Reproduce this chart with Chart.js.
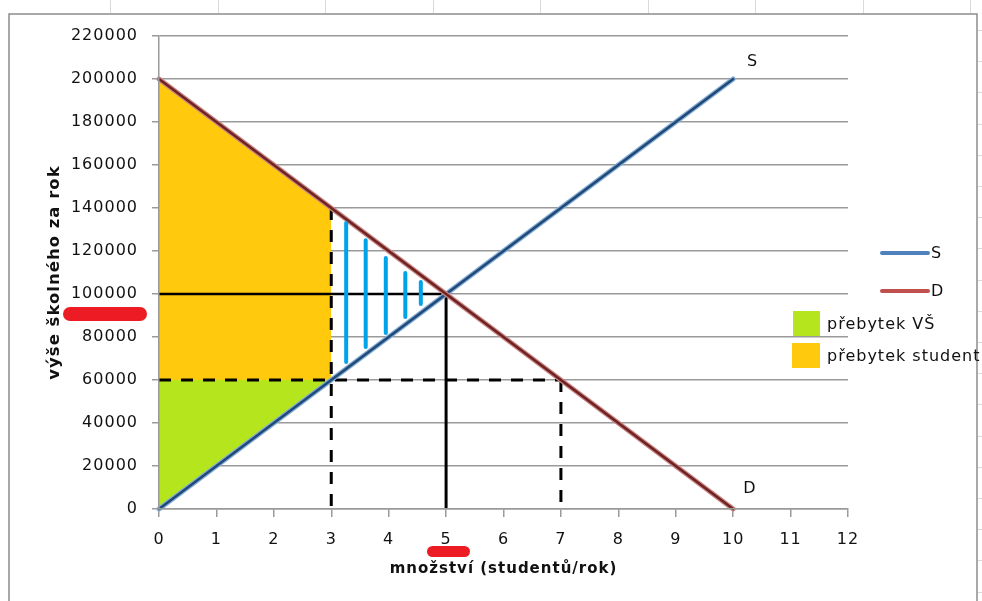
<!DOCTYPE html>
<html><head><meta charset="utf-8">
<script src="https://cdn.jsdelivr.net/npm/chart.js@4/dist/chart.umd.min.js"></script>
<style>html,body{margin:0;padding:0;background:#fff;overflow:hidden}canvas{display:block}</style>
</head><body>
<canvas id="c" width="982" height="601"></canvas>
<script>
// ---- data ----
const supplyX = [0, 10];
const supplyY = [0, 200000];
const demandX = [0, 10];
const demandY = [200000, 0];
const studentSurplusX = [0, 3];
const studentSurplusY = [200000, 140000];
const uniSurplusX = [0, 3];
const uniSurplusY = [0, 60000];
const surplusBase = 60000;
const eqQty = 5, eqPrice = 100000;
const floorPrice = 60000, qSupplied = 3, qDemanded = 7, demandAtQs = 140000;
const hatchX = [3.26, 3.6, 3.95, 4.29, 4.56];
const hatchTop = [133000, 125000, 116700, 109800, 105600];
const hatchBottom = [68400, 75300, 81900, 89300, 95300];
const curveLabels = ['S', 'D'];
const curveLabelX = [10.34, 10.29];
const curveLabelY = [207900, 9300];
const legendLabels = ['S', 'D', 'přebytek VŠ', 'přebytek student'];
const xTitle = 'množství (studentů/rok)';
const yTitle = 'výše školného za rok';
const xMin = 0, xMax = 12, xStep = 1;
const yMin = 0, yMax = 220000, yStep = 20000;

// ---- styles ----
const FONT = 'DejaVu Sans';
const TXT = '#111';
const GRID = '#9a9a9a';
const ORANGE = '#FFC90E', GREEN = '#B5E61D', HATCH = '#00A2E8', RED = '#ED1C24';

const pts = (xs, ys) => xs.map((x, i) => ({x, y: ys[i]}));
const base = {pointRadius: 0, pointHoverRadius: 0, tension: 0, fill: false};

const layers = []; // bottom -> top
layers.push({...base, data: pts(studentSurplusX, studentSurplusY), borderWidth: 0, backgroundColor: ORANGE, fill: {target: {value: surplusBase}}});
layers.push({...base, data: pts(uniSurplusX, uniSurplusY), borderWidth: 0, backgroundColor: GREEN, fill: {target: {value: surplusBase}}});
const dashed = {...base, borderColor: '#000', borderWidth: 3, borderDash: [12, 10]};
layers.push({...dashed, data: pts([xMin, qDemanded], [floorPrice, floorPrice])});
layers.push({...dashed, data: pts([qSupplied, qSupplied], [demandAtQs, yMin])});
layers.push({...dashed, data: pts([qDemanded, qDemanded], [floorPrice, yMin])});
layers.push({...base, borderColor: '#000', borderWidth: 2.5, data: pts([xMin, eqQty], [eqPrice, eqPrice])});
layers.push({...base, borderColor: '#000', borderWidth: 3, data: pts([eqQty, eqQty], [yMin, eqPrice])});
layers.push({...base, borderColor: '#85abd6', borderWidth: 5, borderCapStyle: 'round', data: pts(supplyX, supplyY)});
layers.push({...base, borderColor: '#1f4a78', borderWidth: 2.5, borderCapStyle: 'round', data: pts(supplyX, supplyY)});
layers.push({...base, borderColor: '#c98583', borderWidth: 5, borderCapStyle: 'round', data: pts(demandX, demandY)});
layers.push({...base, borderColor: '#6e2222', borderWidth: 2.5, borderCapStyle: 'round', data: pts(demandX, demandY)});
hatchX.forEach((x, i) => layers.push({...base, borderColor: HATCH, borderWidth: 4, borderCapStyle: 'round', data: pts([x, x], [hatchTop[i], hatchBottom[i]])}));
layers.forEach((d, i) => { d.order = layers.length - i; d.clip = 4; });

const setSpacing = {
  id: 'spacing',
  beforeUpdate(c) { c.ctx.letterSpacing = '1px'; },
  beforeDraw(c) { c.ctx.letterSpacing = '1px'; }
};

const background = {
  id: 'bg',
  beforeDraw(c) {
    const ctx = c.ctx;
    ctx.save();
    ctx.fillStyle = '#fff';
    ctx.fillRect(0, 0, c.width, c.height);
    // faint sheet cell lines
    ctx.strokeStyle = '#dadada'; ctx.lineWidth = 1;
    for (let x = 110; x < 982; x += 107.5) { ctx.beginPath(); ctx.moveTo(Math.round(x) + 0.5, 0); ctx.lineTo(Math.round(x) + 0.5, 13); ctx.stroke(); }
    for (let y = 30; y < 601; y += 31.2) { ctx.beginPath(); ctx.moveTo(978, Math.round(y) + 0.5); ctx.lineTo(982, Math.round(y) + 0.5); ctx.stroke(); }
    // chart frame
    ctx.strokeStyle = '#8c8c8c'; ctx.lineWidth = 1.5;
    ctx.strokeRect(9, 14, 968, 620);
    ctx.restore();
  }
};

const annotations = {
  id: 'ann',
  afterDraw(c) {
    const ctx = c.ctx, xs = c.scales.x, ys = c.scales.y;
    ctx.save();
    ctx.letterSpacing = '1px';
    ctx.font = '16px "' + FONT + '"';
    ctx.fillStyle = TXT;
    ctx.textAlign = 'center'; ctx.textBaseline = 'middle';
    curveLabels.forEach((t, i) => ctx.fillText(t, xs.getPixelForValue(curveLabelX[i]), ys.getPixelForValue(curveLabelY[i])));
    // legend
    const lx0 = 882, lx1 = 928;
    [['#4f81bd', 253], ['#c0504d', 291]].forEach(([col, y], i) => {
      ctx.strokeStyle = col; ctx.lineWidth = 4; ctx.lineCap = 'round';
      ctx.beginPath(); ctx.moveTo(lx0, y); ctx.lineTo(lx1, y); ctx.stroke();
      ctx.textAlign = 'left';
      ctx.fillText(legendLabels[i], 931, y + 1);
    });
    ctx.fillStyle = GREEN; ctx.fillRect(793, 311, 27, 25);
    ctx.fillStyle = ORANGE; ctx.fillRect(792, 343, 28, 25);
    ctx.fillStyle = TXT;
    ctx.fillText(legendLabels[2], 827, 325);
    ctx.fillText(legendLabels[3], 827, 357);
    // red redaction scribbles
    ctx.fillStyle = RED;
    const blob = (x, y, w, h) => { ctx.beginPath(); ctx.roundRect(x, y, w, h, h / 2); ctx.fill(); };
    blob(63, 307, 84, 14);
    blob(427, 546, 43, 11);
    ctx.restore();
  }
};

new Chart(document.getElementById('c'), {
  type: 'line',
  data: {datasets: layers},
  plugins: [setSpacing, background, annotations],
  options: {
    responsive: false,
    animation: false,
    events: [],
    layout: {padding: {left: 40, right: 134, top: 36, bottom: 21}},
    plugins: {legend: {display: false}, tooltip: {enabled: false}},
    scales: {
      x: {
        type: 'linear', min: xMin, max: xMax,
        afterFit(s) { s.height = 71; },
        ticks: {stepSize: xStep, color: TXT, font: {family: FONT, size: 16}, padding: 13, maxRotation: 0, callback: v => String(v)},
        grid: {drawOnChartArea: false, drawTicks: true, tickLength: 8, color: GRID, lineWidth: 1.5},
        border: {color: GRID, width: 1.5, z: 1},
        title: {display: true, text: xTitle, color: TXT, font: {family: FONT, size: 15, weight: 'bold'}, padding: {top: 0, bottom: 2}}
      },
      y: {
        type: 'linear', min: yMin, max: yMax,
        afterFit(s) { s.width = 119; },
        ticks: {stepSize: yStep, color: TXT, font: {family: FONT, size: 16}, padding: 14, callback: v => String(v)},
        grid: {color: GRID, lineWidth: 1.5, tickLength: 7},
        border: {color: GRID, width: 1.5, z: 1},
        title: {display: true, text: yTitle, color: TXT, font: {family: FONT, size: 16.5, weight: 'bold'}, padding: {top: 5, bottom: 0}}
      }
    }
  }
});
</script>
</body></html>
